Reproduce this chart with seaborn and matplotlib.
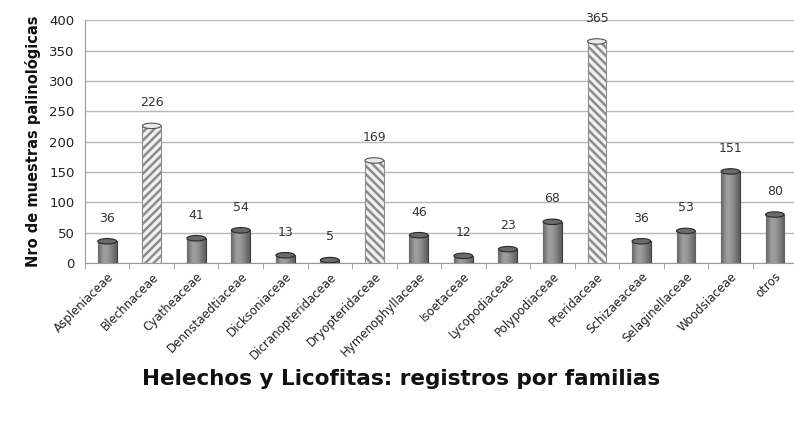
import matplotlib
matplotlib.use("Agg")
import matplotlib.pyplot as plt
import numpy as np
import pandas as pd
import seaborn as sns
from matplotlib.patches import Ellipse

# Registros por familia
FAMILIAS = [
    "Aspleniaceae", "Blechnaceae", "Cyatheaceae", "Dennstaedtiaceae",
    "Dicksoniaceae", "Dicranopteridaceae", "Dryopteridaceae", "Hymenophyllaceae",
    "Isoetaceae", "Lycopodiaceae", "Polypodiaceae", "Pteridaceae",
    "Schizaeaceae", "Selaginellaceae", "Woodsiaceae", "otros",
]
REGISTROS = [36, 226, 41, 54, 13, 5, 169, 46, 12, 23, 68, 365, 36, 53, 151, 80]
# familias destacadas con rayado (y dirección del rayado)
RAYADAS = {"Blechnaceae": "////", "Dryopteridaceae": "\\\\\\\\", "Pteridaceae": "\\\\\\\\"}

df = pd.DataFrame({"familia": FAMILIAS, "registros": REGISTROS})

sns.set_style("white")
plt.rcParams["font.family"] = ["DejaVu Sans"]
plt.rcParams["hatch.linewidth"] = 1.8

fig = plt.figure(figsize=(7.94, 4.21), dpi=100)
ax = fig.add_axes([0.107, 0.375, 0.897, 0.577])

sns.barplot(data=df, x="familia", y="registros", color="#8a8a8a", width=0.42,
            edgecolor="#3a3a3a", linewidth=0.8, ax=ax, zorder=3)

# sombreado tipo cilindro
grad = np.array([[0.42, 0.55, 0.62, 0.62, 0.58, 0.52, 0.46, 0.38]])
cap_h = 9
for patch, fam, val in zip(ax.patches, FAMILIAS, REGISTROS):
    x0, w, h = patch.get_x(), patch.get_width(), patch.get_height()
    if fam in RAYADAS:
        patch.set_facecolor("#f2f2f2")
        patch.set_edgecolor("#8c8c8c")
        patch.set_hatch(RAYADAS[fam])
        cap_face, cap_edge = "#e8e8e8", "#555555"
    else:
        im = ax.imshow(grad, cmap="gray", vmin=0, vmax=1, aspect="auto",
                       extent=(x0, x0 + w, 0, h), zorder=3.5, interpolation="bicubic")
        im.set_clip_path(patch)
        cap_face, cap_edge = "#6a6a6a", "#2a2a2a"
    ax.add_patch(Ellipse((x0 + w / 2, h), w, cap_h, facecolor=cap_face,
                         edgecolor=cap_edge, linewidth=0.8, zorder=4))
    ax.annotate(f"{val}", (x0 + w / 2, h), xytext=(0, 12), textcoords="offset points",
                ha="center", va="bottom", fontsize=9, color="#333333",
                annotation_clip=False)

ax.set_xlim(-0.5, len(FAMILIAS) - 0.5)
ax.set_ylim(0, 400)
ax.set_yticks(range(0, 401, 50))
ax.set_xticks(np.arange(-0.5, len(FAMILIAS), 1.0), minor=True)
ax.grid(axis="y", color="#b8b8b8", linewidth=1.0, zorder=0)
ax.set_axisbelow(True)
for side in ["top", "right"]:
    ax.spines[side].set_visible(False)
for side in ["left", "bottom"]:
    ax.spines[side].set_color("#999999")
ax.tick_params(axis="y", labelsize=9.5, length=4, color="#999999", labelcolor="#222222")
ax.tick_params(axis="x", which="major", labelsize=8.5, length=0, labelcolor="#222222", pad=5)
ax.tick_params(axis="x", which="minor", length=4, color="#999999", bottom=True)
plt.setp(ax.get_xticklabels(), rotation=45, ha="right", rotation_mode="anchor")
ax.set_xlabel("")
ax.set_ylabel("Nro de muestras palinológicas", fontsize=10.5, fontweight="bold",
              color="#111111", labelpad=6)

fig.text(0.505, 0.1, "Helechos y Licofitas: registros por familias", ha="center",
         va="center", fontsize=15.5, fontweight="bold", color="#111111")

fig.savefig("out.png", dpi=100)
